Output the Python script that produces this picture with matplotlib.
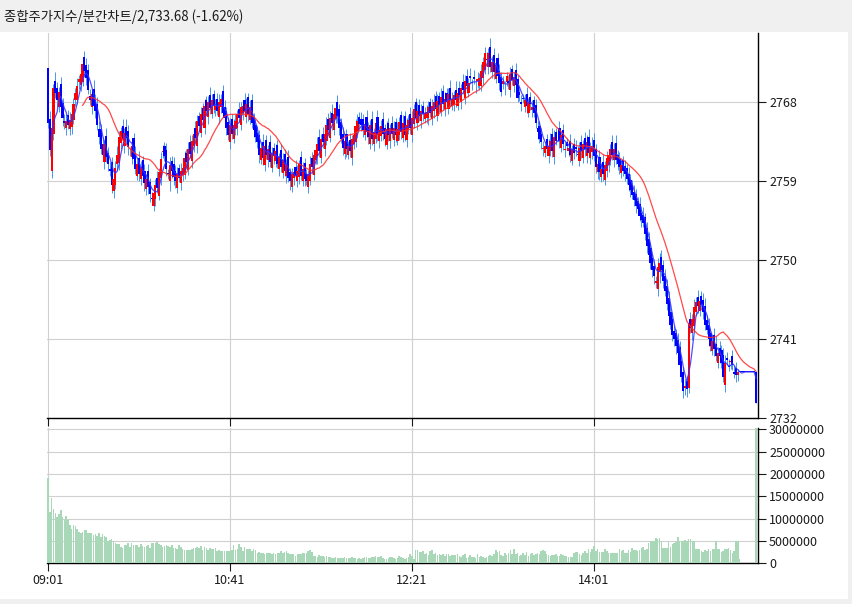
import numpy as np
import pandas as pd
import matplotlib
matplotlib.use('Agg')
import matplotlib.pyplot as plt
from matplotlib.patches import Rectangle

plt.rcParams['font.family'] = ['Noto Sans CJK KR', 'DejaVu Sans']

title = '종합주가지수/분간차트/2,733.68 (-1.62%)'

# minute closes, 09:01 .. 15:30 (one per minute)
open0 = 2771.9
closes = [
    2765.6, 2762.5, 2765.0, 2769.6, 2769.0, 2768.2, 2769.2, 2767.4, 2766.2, 2765.6,  # 0
    2765.8, 2765.4, 2766.0, 2766.6, 2767.8, 2769.0, 2769.8, 2770.6, 2771.2, 2772.4,  # 10
    2771.6, 2770.8, 2769.4, 2768.3, 2768.9, 2767.6, 2767.0, 2765.4, 2764.0, 2762.6,  # 20
    2762.0, 2763.2, 2761.7, 2761.0, 2760.2, 2758.6, 2759.2, 2760.5, 2762.0, 2764.0,  # 30
    2764.7, 2763.8, 2764.5, 2763.9, 2762.9, 2762.4, 2763.0, 2761.5, 2760.4, 2760.9,  # 40
    2759.8, 2760.6, 2759.6, 2758.8, 2759.2, 2758.3, 2757.5, 2757.0, 2757.6, 2758.6,  # 50
    2758.2, 2760.0, 2761.5, 2762.4, 2761.8, 2760.4, 2759.8, 2760.8, 2760.2, 2759.5,  # 60
    2759.0, 2759.8, 2759.4, 2760.2, 2760.5, 2761.6, 2761.2, 2762.7, 2762.1, 2763.6,  # 70
    2764.4, 2763.9, 2765.8, 2765.3, 2766.6, 2766.0, 2767.6, 2767.0, 2768.0, 2767.3,  # 80
    2768.2, 2767.6, 2767.6, 2767.0, 2768.0, 2768.4, 2766.8, 2766.2, 2765.0, 2764.2,  # 90
    2765.4, 2764.4, 2765.4, 2765.8, 2766.6, 2766.2, 2767.4, 2767.6, 2767.0, 2767.8,  # 100
    2766.6, 2767.4, 2765.6, 2764.8, 2764.0, 2763.5, 2762.0, 2762.8, 2761.6, 2763.0,  # 110
    2762.0, 2762.6, 2761.2, 2762.2, 2761.8, 2762.4, 2761.0, 2761.7, 2760.6, 2761.4,  # 120
    2760.2, 2760.9, 2759.4, 2759.0, 2759.8, 2760.0, 2759.6, 2760.2, 2760.9, 2759.6,  # 130
    2760.4, 2759.2, 2759.0, 2759.8, 2761.0, 2760.6, 2762.0, 2762.5, 2763.2, 2762.4,  # 140
    2763.8, 2763.4, 2764.4, 2765.4, 2764.8, 2766.2, 2765.6, 2766.7, 2767.3, 2766.4,  # 150
    2765.0, 2763.8, 2762.8, 2763.6, 2762.6, 2763.0, 2762.4, 2763.8, 2764.2, 2765.3,  # 160
    2765.8, 2765.5, 2765.4, 2764.8, 2765.5, 2764.6, 2764.0, 2765.4, 2763.8, 2764.6,  # 170
    2765.6, 2764.2, 2764.8, 2765.3, 2764.4, 2763.8, 2764.9, 2764.2, 2765.0, 2764.4,  # 180
    2765.1, 2764.3, 2764.9, 2765.7, 2764.6, 2765.6, 2764.3, 2765.4, 2766.0, 2765.0,  # 190
    2766.2, 2767.2, 2766.2, 2767.0, 2766.4, 2767.0, 2766.6, 2766.8, 2766.9, 2767.4,  # 200
    2766.8, 2767.6, 2768.0, 2767.2, 2768.1, 2767.7, 2768.6, 2767.8, 2768.4, 2768.0,  # 210
    2768.9, 2768.2, 2768.4, 2768.8, 2768.3, 2769.0, 2768.8, 2769.6, 2769.4, 2770.4,  # 220
    2769.8, 2770.2, 2770.8, 2770.2, 2770.6, 2769.8, 2770.6, 2770.8, 2771.6, 2772.6,  # 230
    2773.6, 2772.8, 2773.6, 2772.0, 2772.6, 2771.4, 2772.2, 2771.0, 2770.2, 2769.2,  # 240
    2770.4, 2769.6, 2771.0, 2770.2, 2771.2, 2770.5, 2770.9, 2770.0, 2768.5, 2768.8,  # 250
    2767.8, 2768.4, 2768.2, 2767.6, 2768.0, 2767.8, 2767.4, 2766.8, 2765.6, 2764.6,  # 260
    2763.8, 2763.4, 2762.8, 2763.0, 2762.6, 2763.0, 2763.6, 2762.4, 2764.0, 2763.6,  # 270
    2764.3, 2763.6, 2764.2, 2763.2, 2762.6, 2763.0, 2762.8, 2762.0, 2762.6, 2762.2,  # 280
    2762.7, 2762.0, 2762.8, 2762.4, 2763.2, 2762.6, 2763.4, 2762.2, 2762.8, 2763.0,  # 290
    2761.8, 2760.6, 2761.0, 2760.0, 2760.4, 2759.8, 2760.8, 2761.6, 2762.0, 2762.7,  # 300
    2762.0, 2762.6, 2761.4, 2761.0, 2760.6, 2760.8, 2760.2, 2759.8, 2759.2, 2758.6,  # 310
    2758.0, 2757.4, 2756.8, 2756.2, 2755.8, 2755.0, 2754.6, 2754.2, 2753.0, 2751.6,  # 320
    2750.6, 2749.6, 2748.8, 2748.2, 2747.6, 2749.2, 2749.6, 2748.8, 2747.6, 2746.4,  # 330
    2745.0, 2743.6, 2742.6, 2741.4, 2741.0, 2740.2, 2739.4, 2738.0, 2736.6, 2735.0,  # 340
    2735.6, 2735.2, 2742.8, 2742.2, 2743.2, 2744.6, 2745.2, 2744.7, 2745.3, 2744.8,  # 350
    2744.0, 2742.6, 2742.0, 2741.0, 2740.2, 2740.7, 2739.8, 2739.0, 2739.4, 2739.0,  # 360
    2738.2, 2736.6, 2738.2, 2738.6, 2737.8, 2738.4, 2738.0, 2737.0, 2736.8, 2737.2,  # 370
    2737.2, 2737.2, 2737.2, 2737.2, 2737.2, 2737.2, 2737.2, 2737.2, 2737.2, 2733.68,  # 380
]

# open minus previous close, tenths of a point
open_gap = [
    0, 5, -23, -6, 8, 6, -7, 9, 5, -4,  -6, 7, -5, -8, -6, 4, -7, 5, -6, -9,
    8, 6, 9, -7, -8, 6, 7, 8, -5, 9,  6, -8, 9, 5, -6, 10, -7, -6, 5, -9,
    -7, 6, -8, 7, 8, -5, -7, 9, 6, -8,  7, -6, 8, 5, -7, 9, 6, -5, -8, -6,
    7, -9, -7, 8, 6, 7, -6, -8, 5, 7,  6, -8, 7, -6, -5, -8, 6, -9, 7, -8,
    -6, 7, -9, 6, -8, 7, -9, 6, -7, 8,  -6, 7, -5, 8, -7, -6, 9, 6, 8, 7,
    -8, 7, -6, -5, -7, 6, -8, -6, 7, -7,  8, -6, 9, 7, 6, 5, 8, -6, 7, -8,
    7, -6, 8, -7, 6, -5, 7, -6, 8, -7,  7, -6, 8, 6, -7, -5, 6, -6, -7, 8,
    -6, 7, 6, -7, -8, 6, -9, -6, -7, 8,  -8, 6, -7, -8, 7, -9, 6, -8, -6, 7,
    8, 7, 6, -7, 8, -6, 7, -8, -6, -7,  -6, 5, 6, 7, -6, 8, 6, -8, 7, -6,
    -8, 7, -6, -7, 8, 6, -7, 7, -6, 6,  -7, 6, -7, -6, 8, -7, 8, -6, -5, 7,
    -8, -7, 8, -6, 7, -6, 6, -5, -6, -7,  6, -7, -6, 7, -8, 6, -8, 7, -6, 7,
    -8, 7, -6, -7, 6, -7, 6, -8, 7, -9,  6, -7, 8, -6, 7, -8, 6, -7, -9, -8,
    -9, -7, -8, 7, -6, 8, -7, 8, 6, 7,  9, -8, 7, -6, -8, 6, -7, 8, 6, 7,
    -8, 6, -9, 7, -8, 6, -7, 8, 9, -6,  7, 6, -7, -6, 8, -7, -6, 8, -7, 6,
    6, 7, -8, 6, -7, 8, -6, 8, -7, 6,  7, -6, -7, 6, -8, 7, -7, 6, -6, -5,
    7, 8, -6, 7, -5, 8, -7, -6, -8, -7,  8, -6, 7, 6, 5, -7, 6, 5, 7, 6,
    5, 6, 4, 7, 5, 6, 4, 5, 7, 6,  8, 7, 6, 5, -8, -9, -6, 7, 6, 5,
    6, 7, 5, 6, 5, 6, 7, 6, 5, 6,  4, 6, 2, 5, -6, -8, -5, 6, -5, 6,
    6, 7, 5, 6, 7, -6, 7, 6, -8, 5,  7, 9, -9, 6, -7, 5, 6, -8, 7, 0,
    0, 0, 0, 0, 0, 0, 0, 0, 0, 0,
]

# wick lengths above / below the body, tenths of a point
wick_up = [
    0, 9, 6, 5, 10, 7, 5, 8, 6, 9,  8, 6, 9, 5, 7, 6, 10, 5, 8, 7,
    6, 9, 7, 8, 5, 10, 6, 8, 9, 6,  8, 5, 9, 7, 8, 5, 6, 8, 10, 7,
    5, 8, 6, 9, 7, 5, 8, 6, 9, 5,  8, 7, 5, 8, 6, 9, 5, 7, 8, 6,
    9, 5, 8, 7, 5, 8, 6, 9, 5, 8,  7, 8, 5, 9, 6, 8, 5, 7, 8, 6,
    5, 8, 7, 5, 9, 6, 8, 5, 7, 9,  7, 5, 8, 6, 9, 5, 7, 8, 5, 6,
    8, 5, 7, 9, 5, 8, 6, 5, 8, 7,  5, 8, 6, 5, 7, 8, 5, 6, 9, 5,
    6, 5, 8, 7, 5, 8, 6, 5, 7, 8,  5, 6, 8, 5, 7, 5, 8, 6, 5, 7,
    8, 5, 6, 5, 8, 7, 5, 6, 8, 9,  6, 8, 5, 9, 7, 8, 10, 6, 5, 8,
    6, 5, 8, 7, 5, 6, 8, 5, 7, 8,  9, 6, 8, 5, 7, 8, 5, 6, 9, 5,
    6, 8, 5, 7, 8, 5, 9, 6, 5, 8,  7, 5, 8, 6, 5, 9, 6, 8, 5, 7,
    8, 6, 5, 9, 7, 8, 5, 6, 8, 7,  5, 8, 9, 6, 8, 5, 10, 7, 8, 5,
    7, 9, 8, 5, 10, 6, 8, 5, 9, 7,  8, 6, 9, 5, 8, 7, 9, 5, 8, 6,
    7, 8, 6, 10, 7, 8, 5, 6, 8, 5,  6, 8, 5, 7, 8, 5, 6, 8, 5, 7,
    8, 5, 7, 8, 5, 6, 8, 5, 7, 8,  5, 7, 8, 5, 6, 8, 9, 7, 8, 5,
    6, 8, 5, 7, 8, 5, 6, 8, 5, 7,  8, 9, 6, 8, 5, 7, 8, 9, 6, 10,
    8, 6, 5, 8, 7, 9, 5, 8, 6, 5,  8, 7, 9, 5, 8, 6, 5, 7, 5, 8,
    7, 5, 8, 6, 5, 8, 7, 9, 5, 7,  8, 7, 5, 8, 6, 10, 12, 8, 6, 9,
    8, 7, 9, 8, 6, 5, 8, 7, 5, 6,  8, 5, 3, 8, 6, 9, 6, 8, 4, 6,
    8, 9, 6, 8, 5, 7, 8, 9, 6, 8,  6, 8, 9, 7, 8, 5, 7, 8, 6, 3,
    0, 0, 0, 0, 0, 0, 0, 0, 0, 0,
]
wick_dn = [
    5, 6, 9, 7, 5, 8, 6, 5, 9, 7,  8, 5, 7, 8, 5, 6, 5, 8, 7, 5,
    7, 8, 5, 6, 9, 5, 8, 6, 8, 5,  7, 8, 5, 9, 6, 10, 8, 5, 7, 8,
    6, 5, 8, 7, 9, 5, 7, 8, 6, 5,  8, 6, 5, 9, 7, 8, 9, 5, 6, 8,
    6, 5, 8, 7, 5, 8, 6, 11, 8, 10,  8, 6, 5, 8, 7, 5, 8, 6, 5, 8,
    7, 5, 8, 6, 5, 8, 7, 5, 8, 6,  5, 8, 7, 5, 8, 6, 5, 8, 7, 5,
    8, 6, 5, 7, 8, 5, 6, 8, 5, 7,  8, 5, 6, 8, 5, 7, 9, 5, 8, 6,
    5, 8, 6, 5, 8, 7, 5, 8, 6, 5,  6, 8, 5, 10, 6, 8, 5, 7, 8, 5,
    6, 8, 5, 7, 5, 8, 6, 5, 8, 7,  5, 6, 8, 5, 7, 5, 8, 6, 5, 8,
    7, 5, 8, 6, 9, 5, 7, 8, 5, 6,  8, 5, 7, 8, 5, 6, 8, 5, 7, 8,
    5, 6, 8, 5, 7, 8, 5, 6, 8, 5,  7, 8, 5, 6, 8, 5, 7, 8, 5, 6,
    8, 5, 6, 8, 5, 7, 8, 5, 6, 8,  5, 7, 8, 5, 6, 8, 5, 7, 8, 5,
    6, 8, 5, 7, 8, 5, 6, 8, 5, 7,  8, 5, 6, 8, 5, 7, 8, 5, 6, 8,
    5, 7, 8, 5, 6, 8, 5, 7, 8, 5,  6, 8, 5, 7, 8, 5, 6, 8, 5, 7,
    8, 5, 6, 8, 5, 7, 8, 5, 6, 8,  5, 7, 8, 5, 6, 8, 5, 7, 8, 5,
    6, 8, 5, 7, 8, 5, 6, 8, 5, 7,  8, 5, 6, 8, 5, 7, 8, 5, 6, 8,
    5, 7, 8, 9, 6, 8, 5, 7, 8, 5,  6, 8, 5, 7, 8, 5, 6, 8, 5, 7,
    8, 5, 7, 8, 5, 6, 8, 5, 7, 8,  5, 7, 8, 10, 6, 8, 12, 7, 8, 5,
    7, 8, 5, 7, 8, 9, 6, 8, 5, 8,  8, 9, 6, 5, 8, 6, 5, 8, 6, 5,
    8, 6, 5, 8, 6, 5, 8, 6, 5, 8,  6, 5, 8, 6, 5, 8, 6, 5, 8, 6,
    0, 0, 0, 0, 0, 0, 0, 0, 0, 0,
]

# volume per minute, millions of shares
volumes_m = [
    19.2, 11.4, 14.6, 12.1, 11.2, 10.3, 11.0, 11.9, 10.3, 9.6,
    10.6, 9.8, 8.5, 7.6, 8.5, 8.3, 7.7, 7.0, 6.7, 7.0,
    7.4, 7.5, 6.8, 6.7, 6.7, 6.3, 6.5, 6.2, 6.8, 6.0,
    6.6, 6.2, 5.8, 5.0, 5.3, 5.4, 5.0, 4.6, 4.4, 4.4,
    3.6, 3.5, 4.0, 4.0, 4.5, 3.7, 4.6, 4.2, 4.0, 4.0,
    3.7, 4.4, 3.8, 3.6, 3.8, 4.0, 3.5, 4.5, 4.6, 4.6,
    4.8, 4.3, 4.0, 3.6, 3.8, 4.1, 3.8, 3.6, 4.1, 3.5,
    3.4, 3.3, 4.0, 3.6, 3.2, 3.0, 2.9, 3.0, 3.0, 3.2,
    3.4, 3.4, 3.7, 3.4, 3.8, 3.0, 3.6, 3.4, 2.9, 3.4,
    3.2, 3.3, 3.4, 2.8, 3.0, 2.7, 2.8, 2.8, 2.7, 2.8,
    2.8, 3.0, 4.0, 3.0, 3.2, 4.3, 3.6, 2.8, 3.7, 3.2,
    3.1, 3.2, 2.8, 3.2, 3.0, 2.4, 2.6, 2.4, 2.4, 2.1,
    2.3, 2.2, 2.3, 2.1, 2.2, 2.1, 2.4, 2.2, 2.7, 2.2,
    2.5, 2.7, 2.3, 2.1, 2.0, 2.0, 1.6, 2.1, 2.0, 2.1,
    2.2, 2.2, 2.4, 2.7, 3.0, 2.6, 1.7, 1.6, 1.5, 1.8,
    1.6, 1.7, 1.4, 1.6, 1.5, 1.4, 1.1, 1.2, 1.3, 1.2,
    1.1, 1.2, 1.2, 1.3, 1.2, 1.2, 1.1, 1.3, 1.2, 1.1,
    1.0, 1.1, 0.9, 1.2, 1.3, 1.3, 1.1, 1.2, 1.3, 1.4,
    1.6, 1.3, 1.4, 1.6, 1.2, 1.0, 1.0, 1.2, 1.3, 1.4,
    1.1, 1.0, 1.2, 1.6, 1.4, 1.1, 1.0, 1.2, 1.3, 2.0,
    1.6, 1.0, 2.9, 2.9, 2.6, 2.5, 2.8, 2.0, 2.3, 1.9,
    2.8, 2.9, 2.0, 2.2, 1.9, 2.0, 1.8, 2.0, 1.6, 2.0,
    2.1, 1.6, 1.9, 1.9, 1.8, 2.0, 1.6, 1.4, 1.9, 2.1,
    1.2, 1.3, 1.9, 1.4, 1.5, 1.2, 2.0, 1.4, 1.6, 1.4,
    1.1, 1.5, 1.7, 1.8, 1.6, 2.1, 3.0, 2.5, 2.7, 1.8,
    1.6, 2.2, 1.9, 2.4, 3.0, 2.0, 3.2, 2.0, 2.2, 1.7,
    1.8, 2.3, 1.8, 2.6, 1.7, 2.0, 2.4, 1.8, 2.0, 2.4,
    2.1, 2.8, 3.0, 2.8, 2.0, 1.8, 1.7, 1.8, 1.8, 2.0,
    1.7, 1.7, 2.0, 1.8, 1.7, 1.7, 1.4, 1.5, 1.5, 2.2,
    2.6, 2.5, 2.0, 1.9, 2.3, 2.8, 2.4, 3.3, 2.5, 3.1,
    3.9, 2.7, 3.1, 2.6, 2.6, 2.6, 3.3, 2.8, 2.3, 2.3,
    2.4, 2.3, 2.2, 2.4, 3.3, 2.8, 2.9, 2.4, 2.4, 3.0,
    2.6, 3.5, 2.9, 3.0, 2.7, 3.0, 3.4, 3.6, 2.9, 3.1,
    4.6, 5.0, 5.0, 5.1, 5.6, 5.5, 5.7, 4.9, 3.5, 3.5,
    3.5, 4.7, 3.6, 4.3, 4.6, 4.8, 5.8, 5.0, 4.9, 5.0,
    5.2, 5.0, 5.5, 5.4, 5.0, 4.9, 3.2, 3.1, 3.2, 2.7,
    2.6, 3.0, 2.8, 3.2, 2.8, 3.2, 3.2, 4.9, 3.2, 3.2,
    2.6, 2.8, 3.1, 3.3, 3.4, 2.9, 2.2, 2.7, 5.0, 4.9,
    0.9, 0, 0, 0, 0, 0, 0, 0, 0, 30.3,
]

time_ticks = [0, 100, 200, 300]
time_labels = ['09:01', '10:41', '12:21', '14:01']
price_ticks = [2732, 2741, 2750, 2759, 2768]
vol_ticks = [0, 5000000, 10000000, 15000000, 20000000, 25000000, 30000000]

W, H = 853, 604
fig = plt.figure(figsize=(W / 100, H / 100), dpi=100)
fig.patch.set_facecolor('#f0f0f0')
fig.add_artist(Rectangle((0, 5 / H), 848 / W, (599 - 32) / H,
                         transform=fig.transFigure, facecolor='white', edgecolor='none', zorder=0))
fig.text(4 / W, 1 - 17 / H, title, fontsize=9.6, va='center', ha='left', color='#1a1a1a')

left, width = 47 / W, (758 - 47) / W
ax = fig.add_axes([left, (H - 417.5) / H, width, (417.5 - 33) / H])
ax2 = fig.add_axes([left, (H - 563.3) / H, width, (563.3 - 428) / H])

close = np.array(closes)
prev = np.concatenate([[open0], close[:-1]])
opens = prev + np.array(open_gap) / 10
high = np.maximum(opens, close) + np.array(wick_up) / 10
low = np.minimum(opens, close) - np.array(wick_dn) / 10
x = np.arange(len(close))
colors = np.where(close > opens, '#ff0000', '#0000ff')

ax.vlines(x, low, high, color='#4a94ea', lw=0.7, zorder=2)
ax.bar(x, np.maximum(np.abs(close - opens), 0.06), bottom=np.minimum(opens, close),
       width=1.2, color=colors, lw=0, zorder=3, antialiased=False)
ma5 = pd.Series(close).rolling(5, min_periods=3).mean()
ma20 = pd.Series(close).rolling(20).mean()
ax.plot(x, ma5, color='#3030ff', lw=0.9, alpha=0.85, zorder=4)
ax.plot(x, ma20, color='#ff2a2a', lw=0.9, alpha=0.85, zorder=4)

ax2.bar(np.arange(len(volumes_m)), np.array(volumes_m) * 1e6, width=0.85,
        color='#a8d8b8', lw=0, zorder=3)

for a in (ax, ax2):
    a.set_facecolor('none')
    a.set_xlim(-0.55, 390.1)
    a.set_xticks(time_ticks)
    a.grid(True, color='#d0d0d0', lw=0.8)
    a.set_axisbelow(True)
    for s in ('left', 'top'):
        a.spines[s].set_visible(False)
    for s in ('right', 'bottom'):
        a.spines[s].set_color('black')
        a.spines[s].set_linewidth(1.0)
    a.yaxis.tick_right()
    a.tick_params(axis='both', length=6, width=0.8, pad=2, labelsize=9, colors='#1a1a1a')

ax.set_ylim(2732, 2775.9)
ax.set_yticks(price_ticks)
ax.set_yticklabels([str(v) for v in price_ticks])
ax.tick_params(axis='x', labelbottom=False)

ax2.set_ylim(0, 30.3e6)
ax2.set_yticks(vol_ticks)
ax2.set_yticklabels([str(v) for v in vol_ticks])
ax2.set_xticklabels(time_labels)

fig.savefig('out.png', dpi=100, facecolor=fig.get_facecolor())
